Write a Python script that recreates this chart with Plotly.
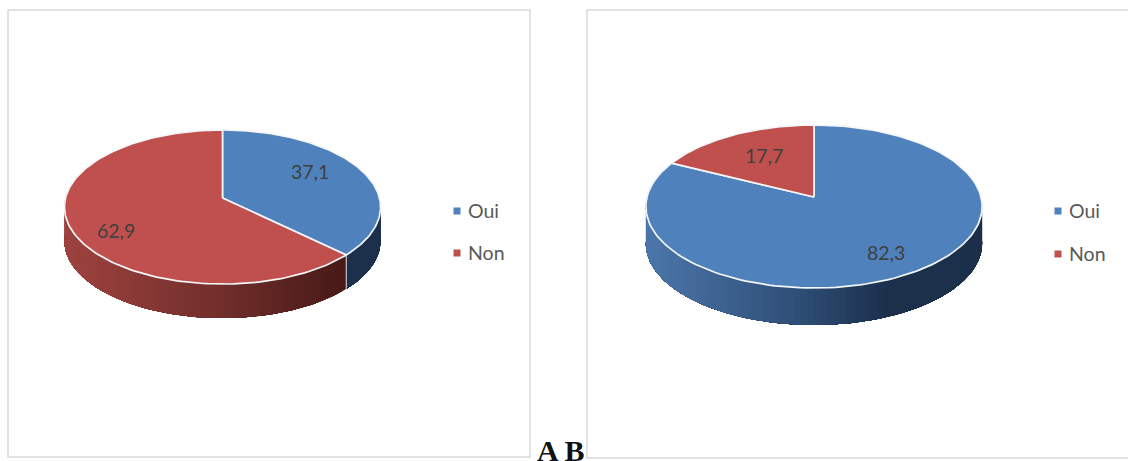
import numpy as np
import plotly.graph_objects as go

# Survey shares, per panel
categories = ["Oui", "Non"]
values_a = [37.1, 62.9]
values_b = [82.3, 17.7]
panel_captions = "A B"

BLUE = "#4f81bd"
RED = "#c0504d"
TEXT_LEGEND = "#595959"
TEXT_LABEL = "#404040"
FRAME = "#d9d9d9"
FONT = "Lato"

# Side wall shading: position along the width -> colour
WALL_STOPS = {
    "Oui": [(0.0, (76, 118, 170)), (0.45, (46, 78, 118)), (0.72, (28, 48, 76)), (1.0, (28, 48, 76))],
    "Non": [(0.0, (158, 66, 62)), (0.5, (112, 46, 43)), (0.88, (72, 26, 24)), (1.0, (72, 26, 24))],
}
FACE = {"Oui": BLUE, "Non": RED}


def project(theta, g):
    """Tilted-disc perspective: theta runs clockwise from 12 o'clock."""
    u, v = np.sin(theta), np.cos(theta)
    f = 1.0 / (1.0 + g["k"] * v)
    return g["cx"] + g["r"] * u * f, g["cy"] - g["ry"] * v * f


def wall_colour(name, t):
    stops = WALL_STOPS[name]
    xs = [s[0] for s in stops]
    rgb = [np.interp(t, xs, [s[1][i] for s in stops]) for i in range(3)]
    return "rgb({:.0f},{:.0f},{:.0f})".format(*rgb)


def draw_pie(fig, values, g):
    total = sum(values)
    edges = np.concatenate([[0.0], np.cumsum(values)]) / total * 2 * np.pi

    # Side wall: each pass repaints everything still to come, so the shading
    # steps from right to left without gaps between the bands
    for i, name in enumerate(categories):
        a0, a1 = max(edges[i], np.radians(78)), min(edges[i + 1], np.radians(282))
        if a1 <= a0:
            continue
        n = max(2, int((a1 - a0) / np.radians(2.0)))
        cuts = np.linspace(a0, a1, n + 1)
        for t0, t1 in zip(cuts[:-1], cuts[1:]):
            ts = np.linspace(t0, a1, max(2, int((a1 - t0) / np.radians(1.0))))
            x, y = project(ts, g)
            xs = np.concatenate([x, x[::-1], [x[0]]])
            ys = np.concatenate([y, (y + g["depth"])[::-1], [y[0]]])
            mx, _ = project(np.array([(t0 + t1) / 2]), g)
            mid = (mx[0] - (g["cx"] - g["r"])) / (2 * g["r"])
            c = wall_colour(name, mid)
            fig.add_trace(go.Scatter(x=xs, y=ys, mode="lines", fill="toself", fillcolor=c,
                                     line=dict(width=0), hoverinfo="skip"))

    # Light seam where two wall segments meet at the front
    for e in edges[1:-1]:
        if np.cos(e) < 0:
            x, y = project(np.array([e]), g)
            fig.add_trace(go.Scatter(x=[x[0], x[0]], y=[y[0], y[0] + g["depth"]], mode="lines",
                                     line=dict(color="#e4e4e4", width=1), hoverinfo="skip"))

    # Top face of each slice
    for i, name in enumerate(categories):
        ts = np.linspace(edges[i], edges[i + 1], 160)
        x, y = project(ts, g)
        xs = np.concatenate([[g["cx"]], x, [g["cx"]]])
        ys = np.concatenate([[g["cy"]], y, [g["cy"]]])
        fig.add_trace(go.Scatter(x=xs, y=ys, mode="lines", fill="toself", fillcolor=FACE[name],
                                 line=dict(color="#f4f6f8", width=1.7), hoverinfo="skip"))


PANELS = [
    dict(values=values_a,
         geom=dict(cx=222.5, cy=198, r=157, ry=76, k=0.117, depth=34),
         frame=(8, 10, 530, 457),
         labels=[(309.5, 171), (115.5, 230)],
         legend_x=457, legend_y=[211, 253]),
    dict(values=values_b,
         geom=dict(cx=814, cy=197, r=167, ry=80.4, k=0.1166, depth=37),
         frame=(587, 10, 1140, 458),
         labels=[(885.5, 252), (764, 155)],
         legend_x=1058, legend_y=[211, 254]),
]

fig = go.Figure()
annotations = []
shapes = []

for p in PANELS:
    x0, y0, x1, y1 = p["frame"]
    shapes.append(dict(type="rect", x0=x0, y0=y0, x1=x1, y1=y1, xref="x", yref="y",
                       line=dict(color=FRAME, width=1.5), fillcolor="white", layer="below"))
    draw_pie(fig, p["values"], p["geom"])

    for v, (lx, ly) in zip(p["values"], p["labels"]):
        annotations.append(dict(x=lx, y=ly, text=f"{v:.1f}".replace(".", ","), showarrow=False,
                                font=dict(family=FONT, size=19.5, color=TEXT_LABEL),
                                xref="x", yref="y"))

    for name, ly in zip(categories, p["legend_y"]):
        fig.add_trace(go.Scatter(x=[p["legend_x"]], y=[ly], mode="markers",
                                 marker=dict(symbol="square", size=7, color=FACE[name]),
                                 hoverinfo="skip"))
        annotations.append(dict(x=p["legend_x"] + 9, y=ly - 1, text=name, showarrow=False, xanchor="left",
                                font=dict(family=FONT, size=19.5, color=TEXT_LEGEND),
                                xref="x", yref="y"))

annotations.append(dict(x=561, y=450, text=f"<b>{panel_captions}</b>", showarrow=False,
                        font=dict(family="Liberation Serif", size=30, color="#111111"),
                        xref="x", yref="y"))

fig.update_layout(
    width=1128, height=461, margin=dict(l=0, r=0, t=0, b=0),
    paper_bgcolor="white", plot_bgcolor="white", showlegend=False,
    xaxis=dict(range=[0, 1128], visible=False, fixedrange=True),
    yaxis=dict(range=[461, 0], visible=False, fixedrange=True),
    shapes=shapes, annotations=annotations,
)

fig.write_html("out.html", config={"displayModeBar": False})
